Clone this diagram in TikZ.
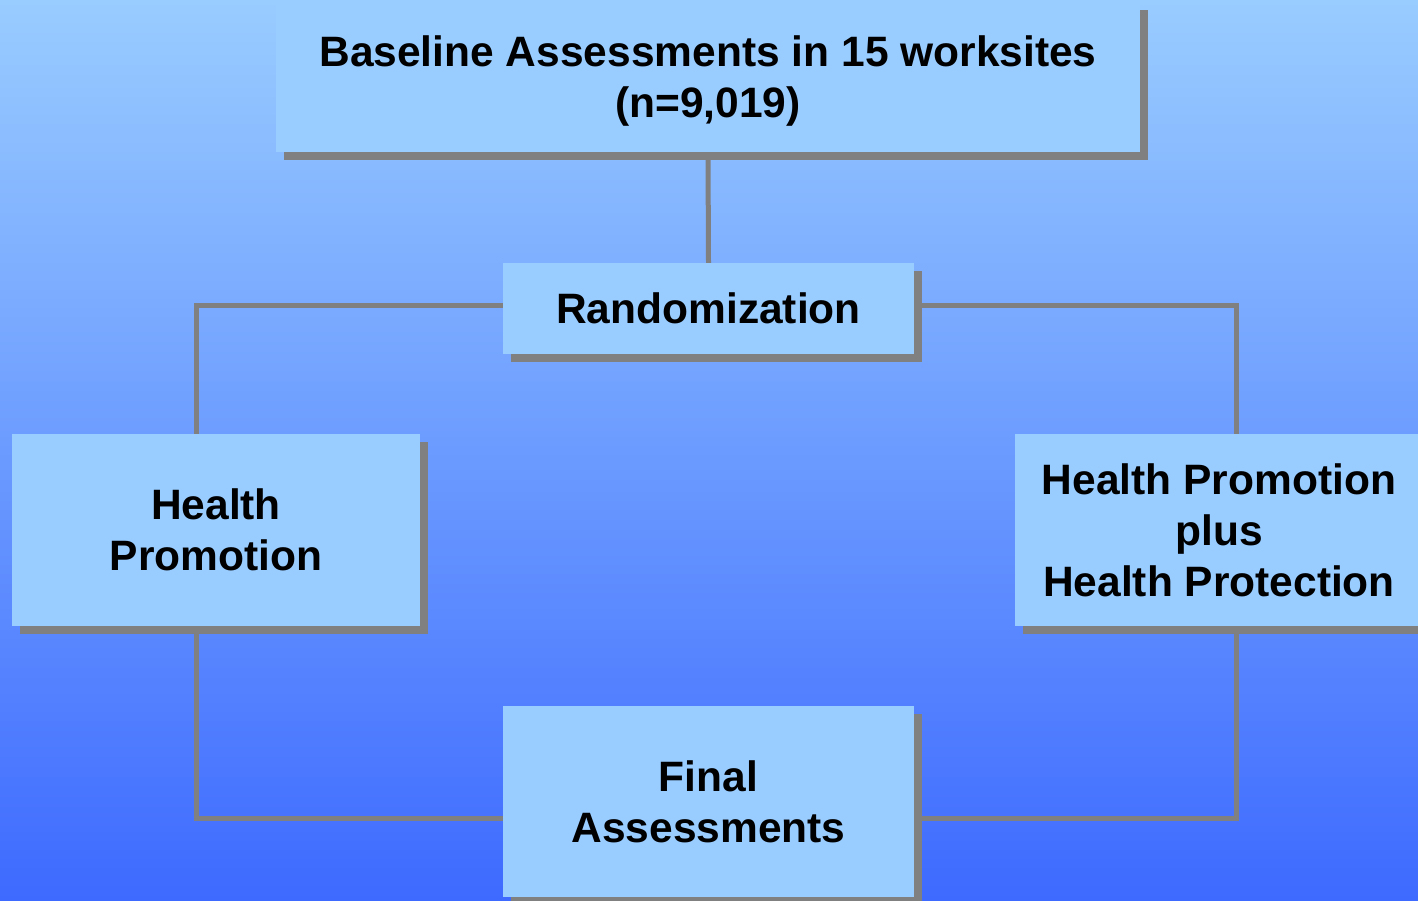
\documentclass[tikz,border=0pt]{standalone}
\usepackage{fontspec}
\setmainfont{Liberation Sans}
\usetikzlibrary{shadows,backgrounds}
\definecolor{bgtop}{RGB}{153,204,255}
\definecolor{bgmid}{RGB}{118,166,255}
\definecolor{bgbot}{RGB}{62,106,255}
\definecolor{boxblue}{RGB}{153,204,255}
\definecolor{linegray}{RGB}{128,128,128}
\tikzset{
  box/.style={rectangle, fill=boxblue, inner sep=0pt, align=center,
    font=\fontsize{42.5}{51}\selectfont\bfseries,
    drop shadow={shadow xshift=8pt, shadow yshift=-8pt, fill=linegray, opacity=1}},
  conn/.style={draw=linegray, line width=5pt}
}
\begin{document}
\begin{tikzpicture}[x=1pt,y=-1pt]
\useasboundingbox (0,0) rectangle (1418,900);
\clip (0,0) rectangle (1418,900);
\begin{pgfonlayer}{background}
\shade[top color=bgtop, middle color=bgmid, bottom color=bgbot] (0,0) rectangle (1418,900);
\end{pgfonlayer}
\node[box, minimum width=864pt, minimum height=150pt] (base) at (708,77) {\rule{0pt}{38pt}Baseline Assessments in 15 worksites\\(n=9,019)};
\node[box, minimum width=411pt, minimum height=91pt] (rand) at (708.5,308.5) {Randomization};
\node[box, minimum width=408pt, minimum height=192pt] (hp) at (216,530) {Health\\Promotion};
\node[box, minimum width=408pt, minimum height=192pt] (hpp) at (1219,530) {Health Promotion\\plus\\Health Protection};
\node[box, minimum width=411pt, minimum height=191pt] (final) at (708.5,801.5) {Final\\Assessments};
\begin{pgfonlayer}{background}
\draw[conn] (base.south) -- (rand.north);
\draw[conn] ([yshift=3.5pt]rand.west) -| ([xshift=-20pt]hp.north);
\draw[conn] ([yshift=3.5pt]rand.east) -| ([xshift=17pt]hpp.north);
\draw[conn] ([xshift=-20pt]hp.south) |- ([yshift=-16.5pt]final.west);
\draw[conn] ([xshift=17pt]hpp.south) |- ([yshift=-16.5pt]final.east);
\end{pgfonlayer}
\end{tikzpicture}
\end{document}
